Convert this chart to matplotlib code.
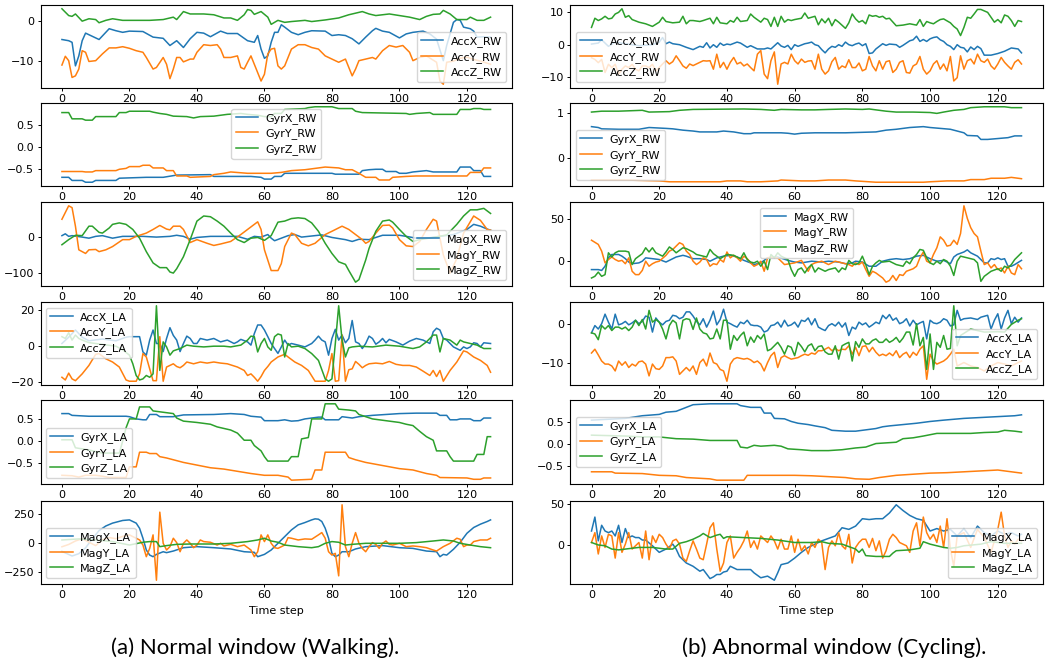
import matplotlib
matplotlib.use("Agg")
import matplotlib.pyplot as plt

# walking window (normal), right wrist
walk_accx_rw = [(0,-4.6),(2,-4.9),(3,-5.3),(4,-11.2),(5,-8.7),(6,-4.9),(7,-3.0),(9,-3.8),(11,-4.6),(13,-2.8),(14,-1.9),(16,-2.4),(18,-2.8),(20,-2.5),(24,-2.6),(27,-4.0),(30,-4.3),(32,-6.1),(34,-4.9),(36,-6.6),(38,-4.4),(40,-2.8),(42,-3.0),(44,-3.9),(47,-2.5),(49,-3.1),(52,-3.1),(55,-4.9),(57,-5.3),(58,-3.6),(59,-7.0),(60,-9.3),(61,-8.7),(62,-5.3),(63,-2.8),(64,-2.8),(65,-0.9),(66,-1.5),(68,-2.8),(70,-3.4),(72,-2.8),(74,-2.4),(78,-2.5),(80,-3.6),(82,-3.4),(84,-3.6),(86,-4.4),(88,-5.7),(90,-4.0),(92,-2.4),(93,-1.8),(95,-2.5),(97,-2.8),(100,-4.2),(102,-3.2),(104,-2.8),(107,-2.5),(109,-3.2),(111,-4.5),(113,-9.9),(114,-6.1),(116,-0.3),(117,0.4),(118,0.2),(119,-1.5),(121,-1.9),(122,-2.5),(123,-4.0),(125,-3.9),(127,-4.0)]
walk_accy_rw = [(0,-11.0),(1,-8.8),(2,-9.9),(3,-14.1),(4,-13.7),(5,-12.0),(6,-7.4),(7,-7.8),(8,-10.1),(10,-9.9),(12,-8.2),(14,-6.7),(16,-6.7),(18,-6.4),(20,-6.8),(22,-7.4),(24,-7.8),(25,-9.1),(27,-12.0),(28,-11.6),(30,-9.1),(31,-10.8),(32,-14.4),(33,-12.0),(34,-9.1),(35,-9.1),(36,-10.2),(38,-9.5),(39,-9.5),(40,-7.8),(42,-5.9),(44,-6.1),(46,-5.9),(47,-7.0),(48,-9.1),(50,-9.1),(52,-8.7),(53,-11.6),(54,-12.0),(55,-10.3),(56,-8.7),(58,-12.9),(59,-15.0),(60,-13.3),(61,-8.2),(62,-7.0),(63,-6.8),(64,-11.2),(65,-12.0),(66,-11.2),(68,-7.0),(70,-5.9),(72,-5.9),(74,-6.6),(76,-7.0),(78,-8.7),(81,-9.9),(82,-10.3),(84,-9.5),(86,-13.7),(87,-12.0),(88,-9.9),(90,-9.5),(92,-9.1),(93,-9.5),(95,-7.4),(97,-6.1),(99,-6.5),(101,-6.1),(103,-7.8),(104,-9.9),(106,-9.1),(108,-8.7),(111,-10.3),(112,-15.0),(113,-15.8),(114,-10.3),(116,-10.0),(118,-9.3),(120,-9.0),(122,-9.6),(124,-10.0),(127,-10.8)]
walk_accz_rw = [(0,3.1),(2,1.4),(3,1.2),(4,1.8),(6,0.0),(8,0.6),(10,0.4),(11,-0.4),(13,0.2),(15,0.6),(18,0.2),(22,0.2),(26,0.2),(30,0.4),(33,1.0),(34,0.4),(36,2.4),(38,1.8),(42,1.8),(45,1.6),(48,0.8),(50,0.8),(52,0.2),(54,1.6),(55,2.9),(56,2.7),(57,1.7),(59,2.4),(61,1.0),(62,-0.8),(64,0.2),(66,-0.3),(68,-0.1),(72,0.2),(74,-0.1),(78,0.3),(82,0.8),(85,1.6),(89,2.4),(91,1.8),(93,1.4),(97,1.8),(100,1.4),(103,1.0),(106,0.4),(108,1.2),(110,1.7),(112,1.8),(113,2.7),(115,1.8),(117,0.4),(120,0.4),(121,1.0),(123,0.2),(125,0.2),(127,1.0)]

walk_gyrx_rw = [(0,-0.68),(2,-0.68),(3,-0.75),(6,-0.75),(7,-0.79),(9,-0.79),(10,-0.75),(16,-0.75),(17,-0.70),(25,-0.68),(30,-0.68),(34,-0.63),(44,-0.62),(45,-0.66),(56,-0.66),(59,-0.68),(60,-0.72),(62,-0.72),(63,-0.66),(65,-0.66),(66,-0.59),(80,-0.59),(81,-0.61),(88,-0.61),(89,-0.53),(91,-0.51),(93,-0.50),(95,-0.50),(96,-0.55),(99,-0.55),(100,-0.59),(102,-0.59),(104,-0.56),(108,-0.53),(110,-0.56),(117,-0.56),(118,-0.45),(121,-0.45),(122,-0.53),(124,-0.53),(125,-0.66),(127,-0.66)]
walk_gyry_rw = [(0,-0.55),(6,-0.55),(7,-0.56),(9,-0.56),(10,-0.53),(16,-0.53),(17,-0.50),(19,-0.48),(20,-0.44),(23,-0.44),(24,-0.41),(26,-0.41),(27,-0.47),(30,-0.47),(31,-0.53),(33,-0.53),(34,-0.65),(37,-0.65),(38,-0.68),(44,-0.66),(45,-0.62),(48,-0.59),(50,-0.56),(55,-0.59),(62,-0.59),(65,-0.57),(68,-0.53),(72,-0.51),(76,-0.47),(78,-0.45),(82,-0.47),(84,-0.51),(86,-0.51),(88,-0.59),(90,-0.68),(93,-0.68),(94,-0.74),(97,-0.74),(98,-0.68),(102,-0.66),(105,-0.65),(120,-0.65),(121,-0.57),(124,-0.57),(125,-0.47),(127,-0.47)]
walk_gyrz_rw = [(0,0.77),(2,0.77),(3,0.63),(6,0.63),(7,0.60),(9,0.60),(10,0.68),(16,0.68),(17,0.77),(19,0.77),(20,0.80),(26,0.80),(27,0.78),(29,0.75),(31,0.73),(33,0.69),(37,0.68),(39,0.65),(41,0.68),(45,0.69),(49,0.73),(53,0.75),(55,0.73),(58,0.71),(60,0.68),(62,0.68),(63,0.75),(65,0.75),(66,0.84),(72,0.86),(73,0.88),(75,0.90),(80,0.90),(82,0.86),(86,0.86),(87,0.80),(89,0.77),(102,0.75),(103,0.73),(105,0.75),(109,0.77),(110,0.73),(117,0.73),(118,0.84),(121,0.84),(122,0.86),(124,0.86),(125,0.84),(127,0.84)]

walk_magx_rw = [(0,3),(1,8),(2,1),(3,3),(6,-1),(8,-4),(10,1),(12,3),(15,-4),(18,1),(24,1),(28,-1),(32,1),(34,4),(36,1),(38,-7),(40,-2),(44,1),(52,1),(55,-7),(57,1),(59,-1),(61,6),(62,-4),(63,-11),(65,-4),(67,3),(69,6),(71,-1),(73,1),(77,5),(80,-2),(84,-8),(86,-13),(88,-7),(91,-8),(95,4),(100,4),(102,1),(105,-4),(108,-4),(112,1),(116,6),(120,20),(122,34),(124,29),(126,21),(127,18)]
walk_magy_rw = [(0,48),(2,85),(3,80),(4,29),(5,-36),(7,-46),(8,-36),(10,-35),(11,-41),(13,-36),(15,-27),(18,-8),(20,-8),(22,1),(25,10),(27,20),(29,31),(31,21),(32,19),(33,29),(35,29),(36,20),(38,-16),(40,-8),(43,-18),(45,-24),(47,-20),(50,-13),(53,6),(55,20),(58,41),(59,20),(60,-36),(62,-93),(64,-93),(65,-74),(66,-27),(68,10),(69,6),(71,-18),(73,-25),(75,-18),(78,6),(80,15),(83,29),(85,20),(87,6),(89,-8),(90,-18),(91,-13),(93,10),(95,31),(97,32),(98,24),(100,-8),(102,-25),(104,-27),(106,-13),(108,20),(110,48),(111,43),(113,-50),(115,-100),(117,-60),(119,10),(122,57),(124,45),(126,20),(127,18)]
walk_magz_rw = [(0,-22),(2,-8),(4,4),(6,3),(8,29),(9,29),(11,12),(12,10),(14,24),(15,34),(17,38),(19,34),(21,20),(23,-4),(25,-41),(27,-72),(29,-85),(31,-85),(32,-97),(33,-100),(34,-88),(36,-55),(38,-8),(40,43),(42,57),(44,55),(46,43),(48,29),(50,10),(52,-8),(54,-16),(56,-4),(58,-2),(60,-10),(62,3),(64,40),(66,43),(68,50),(70,52),(72,50),(74,38),(76,15),(78,-18),(80,-46),(82,-69),(84,-76),(85,-93),(87,-125),(88,-118),(90,-64),(91,-32),(93,15),(95,43),(97,46),(98,40),(100,20),(102,1),(104,-13),(106,-8),(110,-2),(114,5),(117,34),(119,57),(121,74),(123,74),(125,78),(127,64)]

# walking window, left ankle
walk_accx_la = [(0,1.5),(2,5),(4,9),(6,5),(8,3),(12,4),(16,3),(19,5),(20,5.3),(23,5.3),(24,-3.2),(25,-5),(26,3.4),(27,9),(28,1.5),(29,1.5),(30,-3),(31,4.3),(32,10.3),(33,6),(34,3.4),(35,-3),(36,1.5),(37,5.6),(38,4.3),(39,1.5),(40,1.5),(41,4.3),(43,3.4),(45,4.3),(47,2.4),(49,3.4),(51,1.5),(52,2.4),(53,3.8),(55,2.4),(56,0.6),(57,7),(58,11.8),(59,11.8),(60,9),(61,5.3),(62,1.5),(63,-1.3),(64,-4),(65,-0.4),(66,3.4),(67,0.6),(68,1.5),(70,0.6),(72,-0.4),(74,1.5),(75,3.4),(76,5.6),(77,3.4),(78,2.4),(79,-5),(80,4.3),(81,9.4),(82,3.4),(83,6.2),(84,1.9),(85,4.3),(86,14.3),(87,2.4),(88,1.5),(89,-1.3),(90,1.5),(91,5.6),(92,4.3),(93,1.1),(94,2.4),(95,4.3),(96,1.9),(97,3.8),(99,2.4),(101,0.6),(103,2.8),(105,4.3),(107,3.4),(109,1.5),(110,8),(111,10),(112,9),(113,4.3),(114,3.4),(116,-0.4),(118,-2.3),(119,-0.4),(120,-1.3),(121,-0.4),(122,1.9),(123,1.5),(124,-0.4),(125,1.9),(127,1.5)]
walk_accy_la = [(0,-17.3),(1,-18.8),(2,-15),(3,-18.2),(4,-19.2),(6,-15.4),(8,-10.7),(10,-4.5),(11,-4.1),(13,-7),(15,-8.8),(17,-11.6),(19,-18.8),(20,-19.5),(22,-19.5),(23,-15.4),(24,-4.1),(25,-6),(26,-12.6),(27,-19.2),(28,-19.2),(29,5.3),(30,-19.5),(31,-11.6),(32,-10.7),(33,-9.8),(34,-11.3),(35,-12),(36,-10.7),(37,-8.8),(39,-9.8),(41,-8.8),(43,-9.4),(45,-8.8),(47,-9.4),(49,-9.8),(52,-11.6),(54,-13.5),(55,-16.3),(56,-15.4),(57,-17.3),(58,-19.5),(59,-16.9),(60,-13.5),(61,-11.3),(62,-8.8),(64,-6),(66,-4.5),(67,-6),(69,-8.8),(71,-10.7),(73,-13.5),(75,-19.5),(78,-19.5),(79,-13.5),(80,-4.1),(81,-19.5),(82,-19.2),(83,6.2),(84,-19.5),(85,-13.1),(86,-12.6),(87,-8.5),(88,-10.1),(89,-12),(90,-10.7),(91,-9.8),(93,-9.4),(95,-9.8),(97,-8.5),(99,-10.1),(101,-10.7),(103,-10.7),(105,-11.6),(107,-13.9),(109,-16.3),(110,-13.5),(111,-16.9),(112,-13.5),(113,-19.5),(115,-13.5),(117,-8.8),(119,-2.6),(120,-3.2),(122,-6),(124,-7.9),(126,-10.7),(127,-14.5)]
walk_accz_la = [(0,5.3),(1,4.3),(2,7.5),(3,3.4),(4,6.2),(5,4.3),(6,3.4),(8,2.0),(10,1.5),(12,1.0),(14,0.5),(16,0.0),(18,-2.0),(20,-5),(21,-9.8),(22,-16.3),(23,-18.8),(24,-18.2),(25,-16.3),(26,-17.3),(27,-15.4),(28,22.5),(29,-13.5),(30,2.4),(31,-0.4),(32,-5),(33,-2.6),(35,-1.3),(37,0.6),(39,0),(42,-0.4),(45,0),(48,0),(50,-0.4),(53,0.6),(55,3.4),(56,5.6),(57,5.3),(58,-3.2),(59,1.5),(60,4.3),(61,-0.4),(62,-2.3),(63,5.3),(64,6.8),(65,6.2),(66,-6),(67,1.5),(68,-0.4),(70,0),(72,-1.3),(74,-4.1),(76,-7.9),(78,-18.2),(79,-19.5),(80,-18.2),(81,1.5),(82,22.5),(83,3.4),(84,-6),(85,-0.9),(86,-0.4),(88,0),(92,-0.4),(96,0.6),(100,0),(104,-1.3),(106,-0.4),(108,2.4),(110,6.2),(111,6.2),(112,-3.2),(113,4.3),(115,3.4),(117,0.6),(118,3.4),(119,2.4),(121,1.5),(123,0.6),(125,-1.3),(127,-1.3)]

walk_gyrx_la = [(0,0.62),(2,0.62),(3,0.58),(8,0.56),(19,0.56),(20,0.55),(22,0.50),(24,0.48),(25,0.48),(26,0.60),(28,0.60),(29,0.55),(33,0.55),(36,0.59),(45,0.60),(50,0.62),(54,0.60),(56,0.56),(59,0.54),(60,0.46),(64,0.46),(66,0.48),(68,0.45),(70,0.46),(72,0.50),(76,0.54),(77,0.54),(78,0.48),(82,0.48),(83,0.55),(86,0.52),(88,0.55),(92,0.58),(96,0.60),(100,0.62),(105,0.63),(111,0.63),(112,0.58),(114,0.58),(115,0.48),(117,0.48),(118,0.50),(121,0.50),(122,0.46),(124,0.46),(125,0.52),(127,0.52)]
walk_gyry_la = [(0,-0.77),(3,-0.78),(5,-0.81),(7,-0.77),(10,-0.77),(12,-0.79),(14,-0.82),(19,-0.82),(20,-0.58),(22,-0.58),(23,-0.25),(25,-0.25),(26,-0.28),(28,-0.28),(29,-0.35),(31,-0.38),(33,-0.42),(36,-0.48),(40,-0.54),(44,-0.60),(48,-0.63),(52,-0.68),(56,-0.73),(60,-0.77),(64,-0.77),(67,-0.81),(68,-0.88),(71,-0.87),(74,-0.86),(75,-0.65),(77,-0.65),(78,-0.25),(84,-0.25),(85,-0.37),(87,-0.42),(90,-0.48),(95,-0.55),(100,-0.62),(104,-0.65),(108,-0.73),(111,-0.77),(112,-0.82),(120,-0.83),(122,-0.86),(124,-0.86),(125,-0.83),(127,-0.83)]
walk_gyrz_la = [(0,0.03),(3,0.03),(4,-0.15),(8,-0.2),(12,-0.27),(17,-0.27),(18,0.0),(19,0.3),(20,0.5),(22,0.5),(23,0.77),(26,0.77),(27,0.68),(33,0.62),(34,0.52),(36,0.45),(40,0.42),(44,0.38),(46,0.32),(50,0.25),(52,0.18),(54,0.02),(56,0.02),(57,-0.1),(59,-0.22),(60,-0.35),(61,-0.45),(67,-0.45),(68,-0.35),(70,-0.35),(71,0.05),(73,0.08),(74,0.5),(77,0.5),(78,0.84),(81,0.84),(82,0.72),(85,0.7),(87,0.68),(88,0.6),(92,0.5),(97,0.45),(100,0.42),(102,0.38),(104,0.35),(106,0.22),(108,0.1),(110,0.02),(111,-0.22),(114,-0.22),(115,-0.35),(116,-0.45),(122,-0.45),(123,-0.3),(125,-0.3),(126,0.1),(127,0.1)]

walk_magx_la = [(0,-70),(3,-110),(5,-90),(7,-40),(9,40),(11,110),(13,150),(15,175),(18,198),(20,203),(22,175),(23,130),(24,44),(25,-58),(26,-102),(27,-116),(28,-96),(30,-73),(31,-81),(33,-67),(36,-38),(40,-29),(45,-38),(50,-49),(54,-73),(57,-78),(58,-116),(60,-96),(62,-58),(64,0),(66,58),(68,116),(70,160),(72,180),(74,203),(75,212),(76,209),(77,189),(78,131),(79,44),(80,-87),(81,-116),(82,-102),(83,-73),(85,-73),(87,-49),(90,-29),(95,-20),(100,-38),(104,-44),(108,-67),(111,-73),(112,-116),(113,-96),(114,-102),(116,-52),(118,9),(120,87),(122,137),(124,166),(126,189),(127,203)]
walk_magy_la = [(0,-30),(2,-10),(4,20),(6,40),(8,10),(10,-20),(12,30),(14,50),(16,40),(18,60),(20,73),(21,58),(22,44),(23,29),(24,-15),(25,-116),(26,-44),(27,73),(28,-320),(29,270),(30,0),(31,-58),(32,-29),(33,44),(34,6),(35,-73),(36,0),(37,29),(38,0),(39,-38),(40,-15),(41,29),(42,15),(44,9),(46,-15),(47,0),(48,-23),(50,-9),(52,-29),(54,-15),(56,-58),(57,-116),(58,-73),(59,73),(60,15),(61,73),(62,0),(63,-38),(64,-44),(66,-15),(67,49),(68,44),(70,29),(72,38),(74,35),(76,73),(77,93),(78,44),(79,-73),(80,-102),(81,-87),(82,-282),(83,334),(84,-29),(85,-116),(86,0),(87,93),(88,0),(89,-44),(90,-73),(91,-29),(92,6),(93,-9),(94,-44),(95,0),(96,20),(97,-9),(98,-15),(100,0),(102,-29),(104,-23),(106,-29),(108,-38),(110,-58),(111,-67),(113,-29),(115,0),(117,44),(118,35),(119,-29),(120,-15),(121,-15),(122,15),(124,29),(126,29),(127,44)]
walk_magz_la = [(0,29),(5,38),(10,29),(15,15),(20,-15),(24,9),(26,15),(28,15),(29,-29),(31,-20),(34,-9),(38,-6),(45,-6),(50,0),(55,15),(58,29),(60,44),(62,20),(64,9),(66,-15),(70,-29),(74,-38),(76,-29),(78,0),(80,15),(82,9),(84,-15),(86,-9),(90,0),(95,0),(100,0),(105,6),(110,20),(113,29),(116,20),(118,0),(121,-15),(124,-29),(127,-38)]

# cycling window (abnormal), right wrist
cyc_accx_rw = [(0,0.2),(2,0.5),(3,1.5),(5,-0.5),(7,0.8),(10,0.3),(14,-0.3),(18,0.0),(20,0.8),(21,2.2),(22,0.3),(23,0.8),(24,0.3),(26,0.0),(28,-0.8),(30,-1.5),(31,-1.0),(32,-0.5),(33,-0.8),(34,0.6),(35,-1.0),(36,0.0),(37,-0.8),(38,0.5),(39,-0.2),(40,0.2),(41,0.0),(42,0.4),(43,0.8),(44,0.5),(46,-0.8),(47,-0.3),(48,-0.8),(49,-1.3),(51,-1.3),(52,-1.0),(53,-1.3),(55,0.6),(56,-0.4),(57,-0.8),(58,-0.2),(59,-1.5),(60,0.0),(61,-0.5),(63,0.3),(64,0.5),(65,0.8),(66,0.0),(67,-0.3),(68,-1.5),(69,-2.5),(70,-1.3),(71,-0.5),(72,-0.8),(73,0.0),(74,-0.5),(75,0.8),(76,0.0),(77,-0.3),(78,0.2),(79,0.5),(80,-0.3),(81,0.3),(82,-2.7),(83,-2.5),(84,-1.3),(85,-0.5),(86,0.3),(87,-0.2),(88,0.2),(90,0.0),(91,-0.8),(92,-0.2),(93,0.5),(94,1.2),(95,1.5),(96,2.6),(97,1.0),(98,1.6),(99,1.0),(100,1.8),(101,2.2),(102,2.4),(103,1.5),(104,1.0),(105,0.0),(106,-0.5),(107,-1.5),(108,0.0),(109,-0.8),(110,-1.0),(111,-2.2),(112,-0.7),(113,-1.5),(114,-0.5),(115,-1.2),(116,-3.2),(118,-3.2),(120,-2.7),(122,-2.0),(124,-1.0),(126,-1.3),(127,-2.5)]
cyc_accy_rw = [(0,-4),(1,-4.5),(2,-5.5),(3,-4.5),(4,-8.5),(5,-6),(6,-7),(7,-6),(8,-9),(9,-7.5),(10,-6.5),(11,-7),(12,-6),(13,-7.5),(14,-8),(15,-6.5),(16,-6.5),(17,-7),(18,-6),(19,-8),(20,-7.0),(21,-5.9),(22,-4.9),(23,-5.9),(24,-5.2),(25,-3.4),(26,-4.9),(27,-6.5),(28,-7.2),(29,-5.9),(30,-6.4),(31,-5.9),(32,-5.4),(33,-4.9),(34,-5.0),(35,-4.9),(36,-7.5),(37,-2.9),(38,-7.0),(39,-5.4),(40,-7.5),(41,-5.4),(42,-3.9),(43,-5.9),(44,-5.4),(45,-6.5),(46,-5.9),(47,-7.0),(48,-8.0),(49,-2.9),(50,-1.8),(51,-9.0),(52,-10.4),(53,-4.9),(54,-2.2),(55,-12.1),(56,-5.9),(57,-5.4),(58,-5.9),(59,-2.9),(60,-4.9),(61,-5.9),(62,-4.4),(63,-5.4),(64,-5.0),(65,-4.9),(66,-7.5),(67,-2.9),(68,-7.5),(69,-9.0),(70,-8.0),(71,-5.2),(72,-3.9),(73,-7.5),(74,-6.5),(75,-7.0),(76,-4.6),(77,-7.0),(78,-7.0),(79,-5.6),(80,-8.0),(81,-7.5),(82,-3.6),(83,-6.5),(84,-8.0),(85,-4.9),(86,-7.5),(87,-5.2),(88,-4.9),(89,-8.5),(90,-7.5),(91,-5.4),(92,-4.9),(93,-8.5),(94,-8.7),(95,-6.5),(96,-5.9),(97,-3.6),(98,-7.5),(99,-9.0),(100,-8.0),(101,-5.9),(102,-4.9),(103,-7.5),(104,-5.9),(105,-8.0),(106,-3.6),(107,-11.1),(108,-10.1),(109,-3.4),(110,-7.5),(111,-4.9),(112,-4.4),(113,-5.9),(114,-2.9),(115,-4.9),(116,-5.4),(117,-4.4),(118,-6.5),(119,-7.5),(120,-5.9),(121,-3.9),(122,-5.4),(123,-6.5),(124,-7.5),(125,-5.4),(126,-4.6),(127,-5.9)]
cyc_accz_rw = [(0,5.3),(1,8.1),(2,7.4),(3,7.9),(4,8.7),(5,7.9),(6,8.1),(7,9.4),(8,9.9),(9,11.0),(10,8.4),(11,8.9),(12,7.7),(14,6.9),(16,6.4),(18,5.6),(20,6.9),(21,8.4),(22,7.1),(24,6.7),(26,6.9),(27,8.7),(28,6.4),(29,7.4),(30,7.4),(32,7.1),(33,7.4),(35,8.1),(36,6.4),(37,8.4),(38,6.7),(40,6.4),(41,7.4),(42,6.9),(43,8.4),(44,7.1),(46,7.4),(47,9.4),(48,8.4),(50,6.9),(51,8.1),(52,7.7),(53,5.6),(54,8.4),(55,5.6),(56,8.7),(57,6.9),(58,7.7),(59,7.4),(60,7.7),(62,8.1),(63,9.7),(64,8.1),(66,8.7),(67,6.1),(68,7.9),(69,6.7),(70,8.1),(71,5.8),(72,7.7),(73,6.9),(75,5.0),(76,6.7),(77,9.4),(78,7.9),(79,6.9),(80,7.4),(81,6.4),(82,9.1),(83,8.7),(84,8.9),(85,8.4),(86,8.7),(87,7.9),(88,8.1),(90,5.8),(92,6.0),(94,6.4),(96,6.0),(97,7.7),(98,5.6),(99,7.1),(100,6.7),(101,6.4),(102,7.1),(103,7.7),(104,7.9),(106,6.7),(107,5.6),(108,4.8),(109,2.8),(110,5.3),(111,8.4),(112,8.1),(113,9.4),(114,10.8),(115,10.8),(117,9.9),(118,8.4),(119,6.9),(120,7.7),(121,6.7),(122,9.1),(123,8.7),(124,7.4),(125,5.6),(126,7.4),(127,7.1)]

cyc_gyrx_rw = [(0,0.70),(2,0.68),(3,0.65),(8,0.64),(14,0.64),(17,0.68),(22,0.66),(24,0.65),(27,0.62),(30,0.60),(32,0.58),(37,0.58),(39,0.60),(42,0.58),(45,0.54),(47,0.54),(48,0.56),(56,0.56),(58,0.55),(60,0.53),(62,0.55),(66,0.56),(75,0.56),(84,0.58),(87,0.62),(90,0.64),(94,0.68),(98,0.70),(100,0.68),(103,0.66),(106,0.64),(108,0.60),(110,0.56),(111,0.50),(114,0.49),(115,0.41),(117,0.41),(120,0.43),(123,0.45),(125,0.49),(127,0.49)]
cyc_gyry_rw = [(0,-0.51),(10,-0.51),(20,-0.53),(23,-0.55),(38,-0.55),(40,-0.53),(44,-0.53),(46,-0.55),(50,-0.55),(55,-0.53),(56,-0.51),(62,-0.53),(66,-0.53),(70,-0.51),(75,-0.51),(78,-0.53),(82,-0.55),(84,-0.56),(98,-0.56),(100,-0.55),(105,-0.53),(110,-0.53),(112,-0.50),(116,-0.50),(118,-0.47),(122,-0.47),(124,-0.45),(126,-0.47),(127,-0.48)]
cyc_gyrz_rw = [(0,1.03),(3,1.05),(8,1.05),(15,1.07),(17,1.03),(23,1.04),(26,1.07),(30,1.09),(45,1.10),(50,1.09),(54,1.07),(56,1.09),(62,1.08),(66,1.08),(70,1.09),(75,1.10),(80,1.09),(82,1.10),(84,1.08),(87,1.05),(90,1.03),(95,1.03),(100,1.02),(102,1.00),(104,1.03),(107,1.07),(110,1.09),(112,1.13),(116,1.15),(122,1.15),(124,1.13),(127,1.13)]

cyc_magx_rw = [(0,-10),(2,-10),(3,-11),(4,-6),(5,4),(6,8),(8,8),(9,6),(10,3),(11,-1),(12,-3),(14,-2),(15,0),(16,4),(18,3),(20,2),(22,-1),(23,1),(25,5),(27,7),(28,6),(30,3),(32,3),(34,2),(35,0),(37,4),(39,6),(41,7),(43,5),(45,1),(47,-2),(48,-4),(50,-2),(52,4),(55,5),(58,1),(60,-1),(62,-2),(65,0),(68,-1),(70,0),(73,-1),(75,-3),(77,-2),(78,0),(80,-1),(82,-6),(84,-6),(86,0),(88,2),(90,3),(92,2),(94,3),(96,6),(98,7),(100,3),(102,0),(104,1),(106,-3),(107,5),(108,8),(110,11),(111,13.5),(112,10),(114,6),(116,-2),(117,-2),(118,3),(119,2),(120,4),(121,2),(122,3),(123,-6),(124,-6),(125,-4),(127,1)]
cyc_magy_rw = [(0,25),(2,20),(3,12),(4,-2),(5,2),(6,5),(7,2),(8,0),(9,1),(10,-3),(11,4),(12,-12),(13,-16),(14,-16),(15,-11),(16,0),(17,-6),(18,-3),(19,-1),(20,0),(22,7),(23,12),(24,14),(25,18),(26,22),(27,20),(28,12),(29,8),(30,0),(31,-4),(32,-1),(33,4),(34,2),(35,-6),(36,-3),(37,-4),(38,2),(39,-1),(40,11),(41,4),(42,7),(43,4),(44,0),(45,6),(46,3),(47,-2),(48,-6),(49,-4),(50,0),(51,-12),(52,4),(53,5),(55,4),(57,-4),(60,-2),(62,1),(64,-12),(65,-4),(66,-2),(68,0),(70,-4),(72,0),(74,-2),(76,-4),(77,-6),(78,-2),(79,-4),(80,-1),(81,-10),(82,-18),(83,-12),(84,-14),(86,-20),(87,-25),(88,-23),(89,-17),(90,-23),(91,-16),(92,-17),(93,-12),(95,-9),(96,-6),(97,4),(98,11),(99,0),(100,-2),(101,8),(102,16),(103,29),(104,25),(105,18),(106,19),(107,25),(108,20),(109,33),(110,66),(111,51),(112,40),(113,33),(114,29),(115,12),(116,-4),(117,-2),(118,-8),(119,-4),(120,-10),(121,-8),(122,-14),(123,-6),(124,-14),(125,-16),(126,-4),(127,-9)]
cyc_magz_rw = [(0,-20),(1,-18),(2,-13),(3,-18),(4,-16),(5,10),(6,5),(7,10),(8,12),(9,12),(10,12),(11,11),(12,-4),(13,3),(14,6),(15,9),(16,16),(17,11),(18,16),(19,10),(20,8),(21,6),(22,11),(23,17),(24,14),(25,10),(26,13),(27,16),(28,15),(29,13),(30,11),(31,8),(32,7),(34,5),(35,14),(36,9),(38,3),(40,8),(42,7),(44,3),(45,10),(46,2),(47,-1),(48,-2),(49,0),(50,-6),(51,0),(52,-10),(53,8),(54,4),(55,10),(56,6),(58,2),(59,-10),(60,-18),(61,-10),(62,-8),(63,-14),(64,-8),(65,-4),(66,-13),(67,-8),(68,-10),(69,-12),(70,-10),(72,-8),(73,-13),(74,-8),(75,-10),(76,1),(77,-3),(78,-4),(79,-2),(80,6),(81,-4),(82,-16),(83,-6),(84,-2),(85,1),(86,-1),(88,0),(90,-4),(92,-6),(93,0),(94,-3),(95,4),(96,8),(97,14),(98,13),(99,4),(100,-2),(101,-4),(102,0),(103,-3),(104,2),(105,0),(106,-6),(107,-17),(108,0),(109,6),(110,5),(111,4),(112,3),(113,2),(114,-2),(115,-24),(116,-18),(118,-12),(120,-9),(121,-12),(122,-6),(123,-8),(124,-4),(125,2),(126,6),(127,10)]

# cycling window, left ankle
cyc_accx_la = [(0,-2.2),(1,-0.3),(2,-1.2),(3,0.2),(4,2.7),(5,0.6),(6,-1.2),(7,2.7),(8,-0.1),(9,0.2),(10,0.8),(11,-0.1),(12,0.4),(13,1.1),(14,0.2),(15,0.8),(16,2.2),(17,1.9),(18,-2.0),(19,1.7),(20,0.6),(21,-0.1),(22,0.8),(23,1.1),(24,2.4),(25,2.2),(26,1.5),(27,1.9),(28,3.3),(29,3.3),(30,2.2),(31,0.8),(32,-0.1),(33,1.5),(34,-0.7),(35,1.1),(36,3.5),(37,-0.1),(38,1.3),(39,4.0),(40,0.6),(41,0.2),(42,-0.3),(43,-0.7),(44,0.6),(45,0.2),(46,1.1),(47,-0.1),(48,-0.3),(49,-0.3),(50,-0.7),(51,-2.0),(52,-1.6),(53,-0.3),(54,-0.1),(55,0.6),(56,-0.7),(57,1.1),(58,-0.4),(59,-0.1),(60,0.6),(61,-0.7),(62,1.1),(63,0.8),(64,1.7),(65,-0.1),(66,1.5),(67,-0.7),(68,-1.2),(69,-1.6),(70,-0.3),(71,0.2),(72,-0.4),(73,0.6),(74,-0.7),(75,0.4),(76,-2.9),(77,-0.7),(78,-1.2),(79,0.6),(80,-0.1),(81,0.4),(82,-0.7),(83,-0.1),(84,0.6),(85,0.2),(86,2.4),(87,1.5),(88,2.6),(89,1.1),(90,1.7),(91,0.2),(92,0.6),(93,1.5),(94,-0.4),(95,1.1),(96,-0.1),(97,0.4),(98,0.8),(99,-3.8),(100,1.1),(101,0.4),(102,0.2),(103,0.6),(104,1.5),(105,1.1),(106,-0.4),(107,-0.1),(108,3.7),(109,1.1),(110,1.5),(112,1.7),(114,1.3),(115,1.9),(117,2.4),(118,-1.2),(119,1.1),(120,2.8),(121,-1.2),(122,1.7),(123,3.7),(124,0.2),(125,1.9),(126,0.6),(127,1.7)]
cyc_accy_la = [(0,-7.5),(1,-6.5),(2,-8.0),(3,-9.6),(4,-10.4),(5,-10.4),(6,-10.9),(7,-12.2),(8,-9.6),(9,-10.7),(10,-9.8),(11,-11.3),(12,-10.4),(13,-10.9),(14,-9.8),(15,-9.6),(16,-10.4),(17,-13.5),(18,-10.4),(19,-11.6),(20,-11.8),(21,-10.9),(22,-8.7),(23,-8.7),(24,-8.5),(25,-9.6),(26,-13.1),(27,-12.2),(28,-11.3),(29,-12.2),(30,-10.9),(31,-13.1),(32,-10.0),(33,-9.1),(34,-10.9),(35,-7.5),(36,-10.0),(37,-10.4),(38,-11.8),(39,-12.2),(40,-14.9),(41,-10.4),(42,-9.1),(43,-8.7),(44,-8.9),(45,-9.1),(46,-8.9),(47,-9.3),(48,-10.0),(49,-9.6),(50,-10.4),(51,-12.2),(52,-10.0),(53,-8.2),(54,-7.3),(55,-11.3),(56,-8.7),(57,-8.2),(58,-8.7),(59,-9.1),(60,-8.9),(61,-8.7),(62,-8.2),(63,-7.8),(64,-8.1),(65,-7.5),(66,-7.8),(67,-6.9),(68,-6.9),(69,-6.5),(70,-6.0),(71,-6.9),(72,-6.3),(73,-6.9),(74,-6.5),(75,-6.6),(76,-5.6),(77,-7.8),(78,-6.0),(79,-8.2),(80,-5.8),(81,-5.6),(82,-7.2),(83,-6.0),(84,-7.3),(85,-8.2),(86,-7.8),(87,-8.2),(88,-7.5),(89,-8.2),(90,-6.9),(91,-8.7),(92,-7.8),(93,-7.3),(94,-8.7),(95,-7.3),(96,-8.1),(97,-6.5),(98,-5.6),(99,-14.4),(100,-7.8),(101,-9.6),(102,-10.4),(103,-10.0),(104,-9.6),(105,-8.9),(106,-7.8),(107,-6.5),(108,-10.9),(110,-10.0),(112,-10.9),(114,-11.3),(116,-12.2),(118,-10.9),(120,-10.0),(122,-10.4),(124,-10.9),(126,-10.0),(127,-9.6)]
cyc_accz_la = [(0,-2.2),(1,-2.5),(2,-4.0),(3,-0.3),(4,-1.2),(5,-0.3),(6,-1.6),(7,-0.7),(8,-0.7),(9,-1.2),(10,-0.7),(11,-1.6),(12,-0.7),(13,1.1),(14,-0.3),(15,1.3),(16,-1.2),(17,3.7),(18,0.6),(19,1.3),(20,0.6),(21,-1.2),(22,-3.8),(23,-0.3),(24,1.1),(25,0.4),(26,-3.8),(27,1.1),(28,1.5),(29,1.3),(30,-1.3),(31,1.7),(32,-1.2),(33,-2.2),(34,-2.5),(35,-3.8),(36,-3.6),(37,-1.2),(38,-3.8),(39,1.1),(40,1.1),(41,-6.5),(42,-2.9),(43,-4.2),(44,-2.9),(45,-2.0),(46,-5.6),(47,-3.3),(48,-4.7),(49,-2.9),(50,-3.8),(51,-2.5),(52,-6.9),(53,-6.5),(54,-5.6),(55,-4.7),(56,-6.0),(57,-7.8),(58,-5.6),(59,-6.0),(60,-8.2),(61,-4.7),(62,-5.8),(63,-7.2),(64,-5.6),(65,-5.1),(66,-6.9),(67,-5.8),(68,-5.6),(69,-7.2),(70,-7.8),(71,-7.8),(72,-5.6),(73,-9.1),(74,-5.6),(75,-5.1),(76,-4.7),(77,-9.6),(78,-4.5),(79,-6.0),(80,-3.8),(81,-5.1),(82,-5.1),(83,-4.2),(84,-3.8),(85,-4.7),(86,-4.7),(87,-3.8),(88,-4.7),(89,-4.2),(90,-3.4),(91,-4.7),(92,-3.6),(93,-2.0),(94,-2.0),(95,-5.4),(96,0.2),(97,-5.6),(98,-3.4),(99,-11.8),(100,-2.5),(101,-11.8),(102,-4.7),(103,-6.0),(104,-2.9),(105,-6.5),(106,-6.3),(107,4.9),(108,-5.6),(109,-2.9),(112,-1.2),(116,-2.0),(120,-1.9),(122,-2.0),(124,0.0),(126,1.1),(127,1.5)]

cyc_gyrx_la = [(0,0.55),(10,0.59),(15,0.65),(20,0.68),(22,0.73),(25,0.75),(28,0.84),(30,0.90),(35,0.92),(43,0.92),(44,0.88),(47,0.84),(50,0.84),(51,0.71),(53,0.71),(54,0.59),(57,0.58),(59,0.52),(61,0.48),(64,0.45),(66,0.42),(69,0.38),(71,0.32),(75,0.30),(78,0.30),(80,0.32),(84,0.36),(86,0.40),(88,0.42),(92,0.45),(96,0.48),(100,0.52),(104,0.55),(110,0.59),(115,0.61),(120,0.63),(125,0.65),(127,0.67)]
cyc_gyry_la = [(0,-0.62),(6,-0.62),(7,-0.65),(15,-0.66),(20,-0.70),(25,-0.71),(28,-0.75),(35,-0.78),(37,-0.81),(45,-0.81),(46,-0.70),(60,-0.70),(65,-0.71),(70,-0.73),(75,-0.75),(78,-0.78),(82,-0.79),(85,-0.75),(90,-0.70),(94,-0.68),(100,-0.65),(105,-0.64),(110,-0.62),(115,-0.60),(120,-0.58),(122,-0.60),(125,-0.63),(127,-0.65)]
cyc_gyrz_la = [(0,0.21),(10,0.19),(15,0.17),(20,0.17),(25,0.13),(30,0.12),(35,0.09),(43,0.09),(44,-0.06),(46,-0.08),(48,-0.02),(50,-0.04),(54,-0.02),(56,-0.04),(58,-0.10),(62,-0.12),(65,-0.14),(70,-0.14),(74,-0.12),(78,-0.08),(81,-0.06),(84,0.02),(88,0.04),(90,0.05),(92,0.13),(95,0.15),(98,0.19),(100,0.22),(102,0.25),(108,0.25),(112,0.25),(116,0.27),(120,0.28),(122,0.32),(125,0.30),(127,0.28)]

cyc_magx_la = [(0,17),(1,34),(2,5),(3,24),(4,17),(5,15),(6,17),(7,11),(8,24),(9,3),(10,20),(11,9),(12,11),(13,9),(14,9),(15,6),(16,6),(18,-1),(20,-9),(22,-5),(24,1),(25,-5),(26,-14),(28,-22),(30,-26),(32,-32),(33,-30),(35,-41),(36,-39),(37,-36),(38,-36),(39,-33),(40,-32),(41,-26),(43,-30),(45,-30),(47,-30),(48,-34),(50,-40),(52,-38),(54,-43),(55,-34),(56,-24),(58,-22),(60,-16),(62,-9),(64,-3),(66,1),(68,5),(70,8),(72,11),(74,21),(76,19),(78,23),(80,32),(82,31),(84,32),(86,32),(88,39),(90,49),(92,42),(94,36),(96,32),(98,30),(100,17),(102,20),(104,17),(106,19),(108,11),(110,20),(112,9),(114,23),(116,15),(118,11),(120,17),(122,13),(124,15),(126,11),(127,13)]
cyc_magy_la = [(0,3),(1,15),(2,-11),(3,11),(4,-3),(5,13),(6,11),(7,-16),(8,15),(9,-9),(10,1),(11,15),(12,-5),(13,-1),(14,3),(15,-16),(16,17),(17,-18),(18,11),(19,3),(20,13),(21,9),(22,1),(23,-5),(24,5),(25,7),(26,1),(27,-16),(28,-20),(29,-7),(30,5),(31,-5),(32,-16),(33,-18),(34,1),(35,21),(36,27),(37,-5),(38,-32),(39,-22),(40,3),(41,11),(42,-16),(43,-9),(44,-3),(45,5),(46,17),(47,-3),(48,5),(49,-5),(50,11),(51,7),(52,3),(53,11),(54,5),(55,-5),(56,7),(57,-5),(58,-5),(59,11),(60,-9),(61,7),(62,-7),(63,-1),(64,-11),(65,3),(66,-3),(67,7),(68,3),(69,-30),(70,-3),(71,5),(72,-1),(73,15),(74,-1),(75,-5),(76,13),(77,-22),(78,-3),(79,3),(80,7),(81,7),(82,-3),(83,8),(84,-7),(85,5),(86,-16),(87,-7),(88,7),(89,13),(90,9),(91,3),(92,1),(93,-1),(94,-9),(95,17),(96,27),(97,-1),(98,34),(99,15),(100,7),(101,13),(102,3),(103,23),(104,-3),(105,32),(106,-5),(107,-26),(108,11),(110,15),(112,-3),(114,19),(116,9),(118,-9),(120,19),(121,40),(122,11),(123,-3),(124,5),(125,1),(126,7),(127,5)]
cyc_magz_la = [(0,3),(2,0),(4,-1),(6,-5),(8,-6),(10,-5),(14,-3),(18,-3),(22,-5),(24,-5),(26,2),(28,4),(30,7),(32,11),(33,14),(35,9),(37,12),(38,13),(39,8),(40,10),(45,9),(50,8),(55,6),(60,3),(65,3),(68,4),(70,2),(74,1),(76,-2),(78,-5),(79,-9),(80,-5),(81,-13),(84,-14),(88,-14),(89,-10),(90,-7),(94,-6),(97,-4),(98,4),(100,1),(102,-1),(104,-3),(106,-4),(108,-3),(110,-1),(115,1),(118,4),(120,3),(122,2),(125,2),(127,2)]

walk_panels = [
    (["AccX_RW", "AccY_RW", "AccZ_RW"], [walk_accx_rw, walk_accy_rw, walk_accz_rw], [-10, 0], "lower right"),
    (["GyrX_RW", "GyrY_RW", "GyrZ_RW"], [walk_gyrx_rw, walk_gyry_rw, walk_gyrz_rw], [-0.5, 0.0, 0.5], "upper center"),
    (["MagX_RW", "MagY_RW", "MagZ_RW"], [walk_magx_rw, walk_magy_rw, walk_magz_rw], [-100, 0], "lower right"),
    (["AccX_LA", "AccY_LA", "AccZ_LA"], [walk_accx_la, walk_accy_la, walk_accz_la], [-20, 0, 20], "upper left"),
    (["GyrX_LA", "GyrY_LA", "GyrZ_LA"], [walk_gyrx_la, walk_gyry_la, walk_gyrz_la], [-0.5, 0.0, 0.5], "lower left"),
    (["MagX_LA", "MagY_LA", "MagZ_LA"], [walk_magx_la, walk_magy_la, walk_magz_la], [-250, 0, 250], "lower left"),
]
cyc_panels = [
    (["AccX_RW", "AccY_RW", "AccZ_RW"], [cyc_accx_rw, cyc_accy_rw, cyc_accz_rw], [-10, 0, 10], "lower left"),
    (["GyrX_RW", "GyrY_RW", "GyrZ_RW"], [cyc_gyrx_rw, cyc_gyry_rw, cyc_gyrz_rw], [0, 1], "lower left"),
    (["MagX_RW", "MagY_RW", "MagZ_RW"], [cyc_magx_rw, cyc_magy_rw, cyc_magz_rw], [0, 50], "upper center"),
    (["AccX_LA", "AccY_LA", "AccZ_LA"], [cyc_accx_la, cyc_accy_la, cyc_accz_la], [-10, 0], "lower right"),
    (["GyrX_LA", "GyrY_LA", "GyrZ_LA"], [cyc_gyrx_la, cyc_gyry_la, cyc_gyrz_la], [-0.5, 0.0, 0.5], "center left"),
    (["MagX_LA", "MagY_LA", "MagZ_LA"], [cyc_magx_la, cyc_magy_la, cyc_magz_la], [0, 50], "lower right"),
]

W, H = 1051, 663
fig = plt.figure(figsize=(W / 100, H / 100), dpi=100)

columns = [(40.5, 512, walk_panels), (570, 1043, cyc_panels)]
rows = [(5, 88), (103, 186), (202, 286), (302, 385), (400, 484), (501, 584)]

for x0, x1, panels in columns:
    for (top, bottom), (names, series, yticks, loc) in zip(rows, panels):
        ax = fig.add_axes([x0 / W, 1 - bottom / H, (x1 - x0) / W, (bottom - top) / H])
        for name, pts in zip(names, series):
            t = [p[0] for p in pts]
            v = [p[1] for p in pts]
            ax.plot(t, v, lw=1.1, label=name)
        ax.set_xticks([0, 20, 40, 60, 80, 100, 120])
        ax.set_yticks(yticks)
        ax.tick_params(labelsize=8, length=2.5, width=0.7, pad=2)
        ax.legend(loc=loc, fontsize=8, handlelength=2.0, labelspacing=0.42,
                  borderpad=0.38, handletextpad=0.7)
    ax.set_xlabel("Time step", fontsize=8, labelpad=4)

fig.text(255 / W, 1 - 648 / H, "(a) Normal window (Walking).", ha="center", va="center",
         fontsize=16, family="Lato")
fig.text(834 / W, 1 - 648 / H, "(b) Abnormal window (Cycling).", ha="center", va="center",
         fontsize=16, family="Lato")

fig.savefig("out.png", dpi=100)
